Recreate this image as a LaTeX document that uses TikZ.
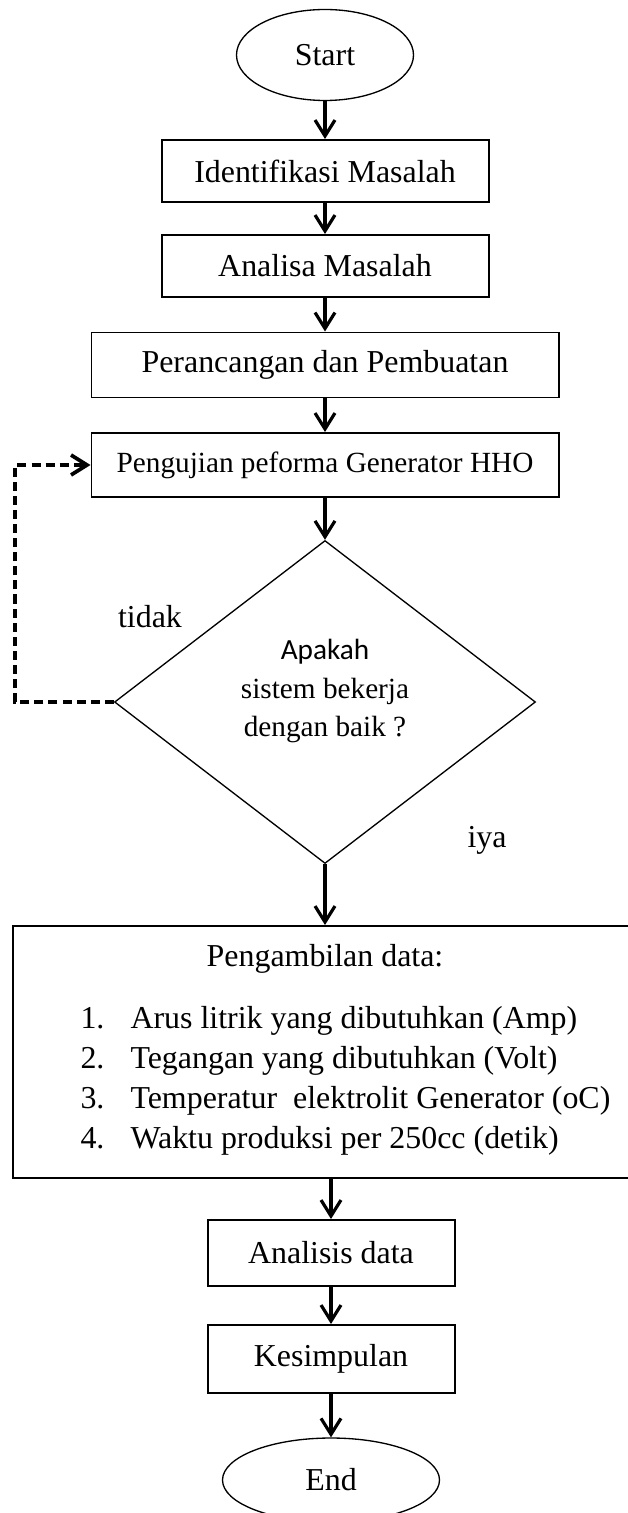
\documentclass[tikz,border=0pt]{standalone}
\usepackage{fontspec}
\setmainfont{Liberation Serif}
\newfontfamily\calibrifont{Carlito}
\usetikzlibrary{shapes.geometric,arrows.meta}

\tikzset{
  box/.style={draw, rectangle, line width=0.75pt, inner sep=0pt},
  term/.style={draw, ellipse, line width=0.5pt, inner sep=0pt},
  decide/.style={draw, diamond, line width=0.5pt, inner sep=0pt},
  sz/.style 2 args={minimum width=#1*0.376pt, minimum height=#2*0.376pt},
  arr/.style={-{Straight Barb[length=6pt,width=7.5pt]}, line width=1.2pt},
  backarr/.style={-{Straight Barb[length=6pt,width=7.5pt]}, line width=1.4pt, dash pattern=on 3.4pt off 1.9pt},
  small/.style={font=\fontsize{11}{14.5}\selectfont}
}

\begin{document}
\begin{tikzpicture}[x=0.376pt, y=-0.376pt, font=\fontsize{12}{14.4}\selectfont]
  \useasboundingbox (0,0) rectangle (627,1513);

  % Start and first steps
  \node[term, sz={177}{91}] (start) at (325,55) {Start};
  \node[box, sz={327}{62}] (ident) at (325,171) {Identifikasi Masalah};
  \node[box, sz={327}{62}] (analisa) at (325,266) {Analisa Masalah};
  \node[box, sz={467}{65}] (rancang) at (325,365) {Perancangan dan Pembuatan};
  \node[box, sz={467}{64}, small] (uji) at (325,465) {Pengujian peforma Generator HHO};

  % Decision
  \node[decide, sz={421}{323}] (cek) at (325,702) {};
  \node[small, align=center] (cektext) at (325,691)
    {{\calibrifont Apakah}\\sistem bekerja\\dengan baik ?};
  \node[anchor=base] (tidak) at (150,627) {tidak};
  \node[anchor=base] (iya) at (487,847) {iya};
  \coordinate (balik) at (15,702);

  % Data collection (right edge runs off the page)
  \node[box, sz={616}{252}] (data) at (321,1052) {};
  \node[anchor=base] (datatitle) at (325,966) {Pengambilan data:};
  \foreach \i/\txt in {1/Arus litrik yang dibutuhkan (Amp),
                       2/Tegangan yang dibutuhkan (Volt),
                       3/Temperatur\ \ elektrolit Generator (oC),
                       4/Waktu produksi per 250cc (detik)}
    \node[anchor=base west, inner sep=0pt] (item\i) at (80,{1028+40*(\i-1)})
      {\makebox[50\dimexpr0.376pt\relax][l]{\i.}\txt};

  % Final steps
  \node[box, sz={247}{66}] (analisis) at (331,1253) {Analisis data};
  \node[box, sz={247}{68}] (simpul) at (331,1359) {Kesimpulan};
  \node[term, sz={217}{84}] (end) at (331,1480) {End};

  % Connectors
  \draw[arr] (start) -- (ident);
  \draw[arr] (ident) -- (analisa);
  \draw[arr] (analisa) -- (rancang);
  \draw[arr] (rancang) -- (uji);
  \draw[arr] (uji) -- (cek);
  \draw[arr] (cek.south) -- (cek.south |- data.north);
  \draw[arr] (analisis.north |- data.south) -- (analisis);
  \draw[arr] (analisis) -- (simpul);
  \draw[arr] (simpul) -- (end);
  \draw[backarr] (cek.west) -- (balik) |- (uji.west);
\end{tikzpicture}
\end{document}
